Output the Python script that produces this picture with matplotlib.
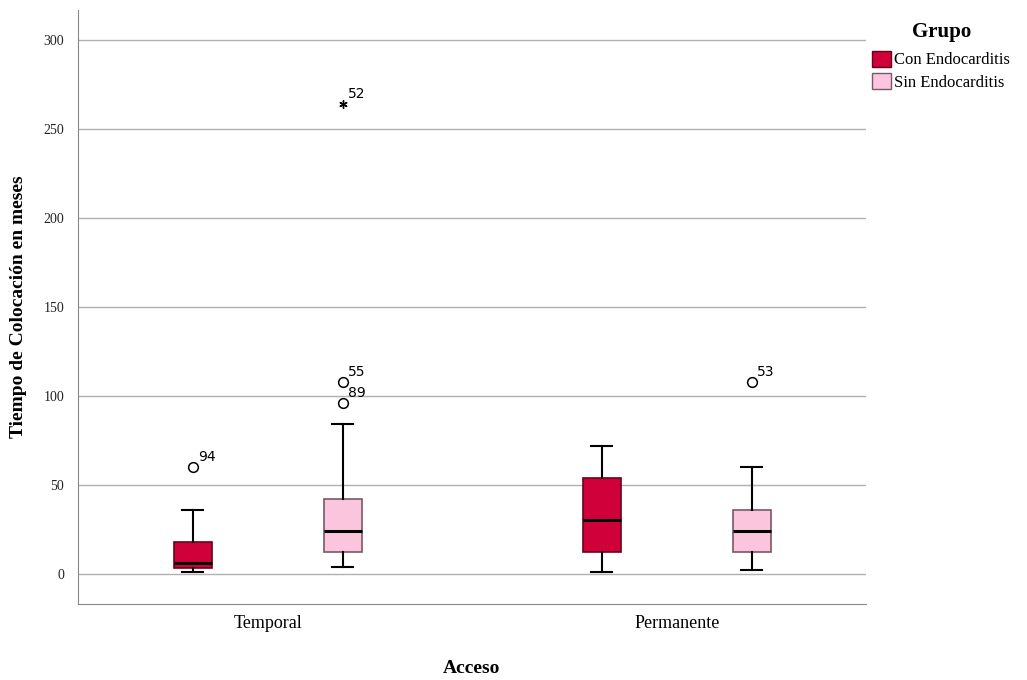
import matplotlib.pyplot as plt

# values (months)
accesos = ["Temporal", "Permanente"]
grupos = ["Con Endocarditis", "Sin Endocarditis"]
colores = ["#d0003a", "#fbc5de"]
bordes = ["#6a0018", "#7a5866"]

# per group, per acceso: whisker low, Q1, median, Q3, whisker high
whislo = [[1, 1], [4, 2]]
q1 = [[3, 12], [12, 12]]
med = [[6, 30], [24, 24]]
q3 = [[18, 54], [42, 36]]
whishi = [[36, 72], [84, 60]]

# outliers (circle) and extremes (star) with case labels
outliers = [[[(60, "94")], []],
            [[(108, "55"), (96, "89")], [(108, "53")]]]
extremos = [[[], []],
            [[(264, "52")], []]]

plt.rcParams['font.family'] = ['Liberation Serif', 'DejaVu Serif']

fig = plt.figure(figsize=(10.27, 6.8), dpi=100)
ax = fig.add_axes([0.0759, 0.1118, 0.767, 0.8732])

offset = 0.183
width = 0.093
for g in range(2):
    stats = []
    for a in range(2):
        stats.append(dict(whislo=whislo[g][a], q1=q1[g][a], med=med[g][a],
                          q3=q3[g][a], whishi=whishi[g][a], fliers=[]))
    pos = [a + (offset if g else -offset) for a in range(2)]
    ax.bxp(stats, positions=pos, widths=width, patch_artist=True, showfliers=False,
           boxprops=dict(facecolor=colores[g], edgecolor=bordes[g], linewidth=1.2),
           medianprops=dict(color='black', linewidth=2.2),
           whiskerprops=dict(color='black', linewidth=1.5),
           capprops=dict(color='black', linewidth=1.5),
           capwidths=width * 0.55, manage_ticks=False)
    for a in range(2):
        x = pos[a]
        for val, lab in outliers[g][a]:
            ax.plot(x, val, 'o', mfc='white', mec='black', ms=7, mew=1.1)
            ax.text(x + 0.013, val + 3.5, lab, fontsize=10, family='DejaVu Sans')
        for val, lab in extremos[g][a]:
            ax.plot(x, val, marker=(6, 2, 0), color='black', ms=6, mew=1.0)
            ax.text(x + 0.013, val + 3.5, lab, fontsize=10, family='DejaVu Sans')

ax.set_xlim(-0.464, 1.462)
ax.set_ylim(-17, 317)
ax.set_yticks([0, 50, 100, 150, 200, 250, 300])
ax.set_xticks([0, 1])
ax.set_xticklabels(accesos, fontsize=13)
ax.tick_params(axis='y', labelsize=10, length=0, pad=10, colors='#222222')
ax.tick_params(axis='x', length=0, pad=8)
ax.yaxis.grid(True, color='#b0b0b0', linewidth=1)
ax.set_axisbelow(True)
for s in ['top', 'right']:
    ax.spines[s].set_visible(False)
for s in ['left', 'bottom']:
    ax.spines[s].set_color('#888888')

ax.set_xlabel("Acceso", fontsize=14, fontweight='bold', labelpad=20)
ax.set_ylabel("Tiempo de Colocación en meses", fontsize=14, fontweight='bold', labelpad=12)

handles = [plt.Rectangle((0, 0), 1, 1, facecolor=colores[i], edgecolor=bordes[i]) for i in range(2)]
leg = fig.legend(handles, grupos, title="Grupo", loc='upper left', bbox_to_anchor=(0.843, 0.977),
                 frameon=False, fontsize=12, handlelength=1.1, handleheight=1.1,
                 handletextpad=0.2, labelspacing=0.3, borderaxespad=0)
leg.get_title().set_fontweight('bold')
leg.get_title().set_fontsize(15)
leg._legend_box.sep = 6

fig.savefig("out.png", dpi=100)
